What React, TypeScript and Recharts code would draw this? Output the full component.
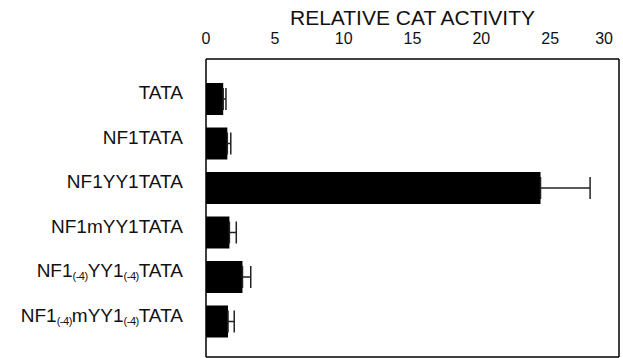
import React from "react";
import { BarChart, Bar, XAxis, YAxis, ErrorBar } from "recharts";

const categories = [
  "TATA",
  "NF1TATA",
  "NF1YY1TATA",
  "NF1mYY1TATA",
  "NF1(-4)YY1(-4)TATA",
  "NF1(-4)mYY1(-4)TATA",
];
const values = [1.25, 1.55, 24.3, 1.7, 2.65, 1.6];
const upperErrors = [0.2, 0.25, 3.6, 0.5, 0.6, 0.45];
const labelTicks = [0, 5, 10, 15, 20, 25, 30];
const minorTicks = [0, 2.5, 5, 7.5, 10, 12.5, 15, 17.5, 20, 22.5, 25, 27.5, 30];
const title = "RELATIVE CAT ACTIVITY";

const data = categories.map((name, i) => ({
  name,
  value: values[i],
  err: [0, upperErrors[i]],
}));

const FONT = "'Liberation Sans', Arial, Helvetica, sans-serif";

const CategoryTick = (props: any) => {
  const { x, y, payload } = props;
  const parts = String(payload.value).split(/(\(-4\))/).filter((s) => s.length);
  let sub = false;
  return (
    <text x={x} y={y} textAnchor="end" fontFamily={FONT} fontSize={19} fill="#111" dy="0.36em">
      {parts.map((p, i) => {
        const isSub = p === "(-4)";
        let dy = 0;
        if (isSub && !sub) dy = 3;
        if (!isSub && sub) dy = -3;
        sub = isSub;
        return (
          <tspan key={i} fontSize={isSub ? 11 : 19} dy={dy} letterSpacing={isSub ? -0.5 : 0}>
            {p}
          </tspan>
        );
      })}
    </text>
  );
};

const TopTick = (props: any) => {
  const { x, y, payload } = props;
  const last = payload.value === 30;
  return (
    <text x={last ? x - 2 : x} y={y} textAnchor={last ? "end" : "middle"} fontFamily={FONT} fontSize={16} fill="#111">
      {payload.value}
    </text>
  );
};

export default function App() {
  return (
    <div style={{ position: "absolute", left: 0, top: 0, width: 623, height: 358, background: "#fff" }}>
      <BarChart
        width={623}
        height={358}
        data={data}
        layout="vertical"
        margin={{ top: 0, right: 3, bottom: 1, left: 0 }}
      >
        <XAxis
          xAxisId="top"
          orientation="top"
          type="number"
          domain={[0, 30]}
          ticks={labelTicks}
          allowDataOverflow
          height={59}
          tickLine={false}
          tickSize={0}
          tickMargin={15}
          tick={<TopTick />}
          axisLine={{ stroke: "#000", strokeWidth: 1.5 }}
          label={{ value: title, position: "insideTop", offset: 10, fontSize: 21, fontFamily: FONT, fill: "#111" }}
        />
        <XAxis
          xAxisId="topTicks"
          orientation="top"
          type="number"
          mirror
          domain={[0, 30]}
          ticks={minorTicks}
          allowDataOverflow
          tick={false}
          tickSize={4}
          tickLine={{ stroke: "#000", strokeWidth: 1.5 }}
          axisLine={false}
        />
        <XAxis
          xAxisId="bottom"
          orientation="bottom"
          type="number"
          mirror
          domain={[0, 30]}
          ticks={minorTicks}
          allowDataOverflow
          tick={false}
          tickSize={5}
          tickLine={{ stroke: "#000", strokeWidth: 1.5 }}
          axisLine={{ stroke: "#000", strokeWidth: 1.5 }}
        />
        <YAxis
          yAxisId="cat"
          type="category"
          dataKey="name"
          width={206}
          padding={{ top: 18, bottom: 13 }}
          tickLine={false}
          tickSize={0}
          tickMargin={23}
          tick={<CategoryTick />}
          axisLine={{ stroke: "#000", strokeWidth: 1.5 }}
          interval={0}
        />
        <YAxis
          yAxisId="right"
          orientation="right"
          type="number"
          domain={[0, 1]}
          allowDataOverflow
          width={1}
          tick={false}
          tickLine={false}
          axisLine={{ stroke: "#000", strokeWidth: 1.5 }}
        />
        <Bar
          dataKey="value"
          xAxisId="top"
          yAxisId="cat"
          fill="#000"
          barSize={32}
          isAnimationActive={false}
        >
          <ErrorBar dataKey="err" direction="x" width={11} stroke="#222" strokeWidth={1.5} isAnimationActive={false} />
        </Bar>
      </BarChart>
    </div>
  );
}
